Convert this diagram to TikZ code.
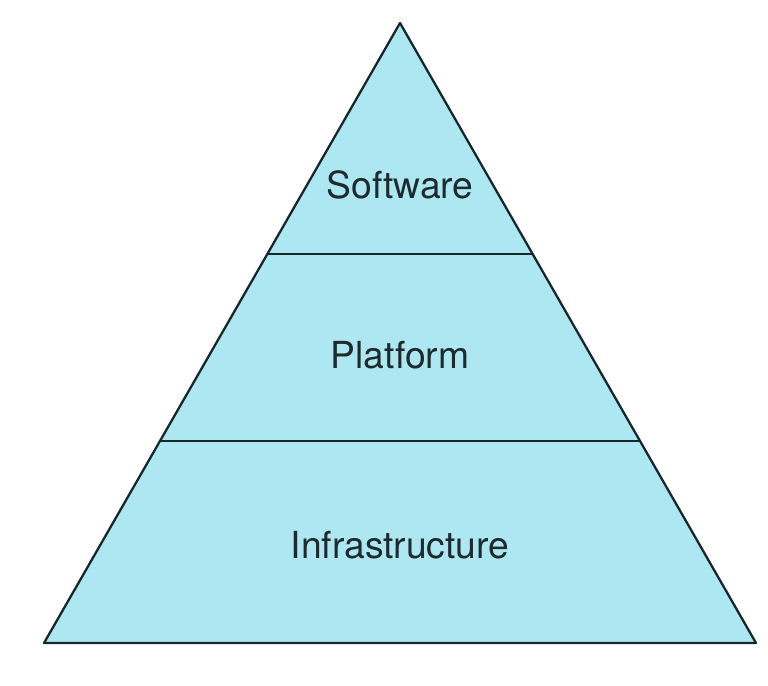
\documentclass[tikz,border=0pt]{standalone}
\usepackage{fontspec}
\setmainfont{TeX Gyre Heros}
\usepackage{xcolor}
\usepackage{tikz}
\usetikzlibrary{calc,positioning}
\definecolor{tierfill}{HTML}{ADE8F2}
\definecolor{edgeline}{HTML}{17262B}
\definecolor{labeltext}{HTML}{1E2A2E}

\begin{document}
\begin{tikzpicture}[
    x=0.02cm, y=-0.02cm,
    tier/.style={draw=edgeline, line width=1.3pt, line join=round},
    tierlabel/.style={text=labeltext, font=\fontsize{21.2}{25}\selectfont, inner sep=0pt}
]
    \useasboundingbox (0,0) rectangle (768,686);
    \coordinate (apex) at (400,23);
    \coordinate (bl) at (44,643);
    \coordinate (br) at (756,643);
    % tier borders on the two sides
    \coordinate (sl) at ($(apex)!0.3726!(bl)$);
    \coordinate (sr) at ($(apex)!0.3726!(br)$);
    \coordinate (pl) at ($(apex)!0.6742!(bl)$);
    \coordinate (pr) at ($(apex)!0.6742!(br)$);

    \filldraw[tier, fill=tierfill] (apex) -- (bl) -- (br) -- cycle;
    \draw[tier] (sl) -- (sr);
    \draw[tier] (pl) -- (pr);

    \node[tierlabel] (software) at (400,185) {Software};
    \node[tierlabel] (platform) at (400,355) {Platform};
    \node[tierlabel] (infra) at (400,545) {Infrastructure};
\end{tikzpicture}
\end{document}
